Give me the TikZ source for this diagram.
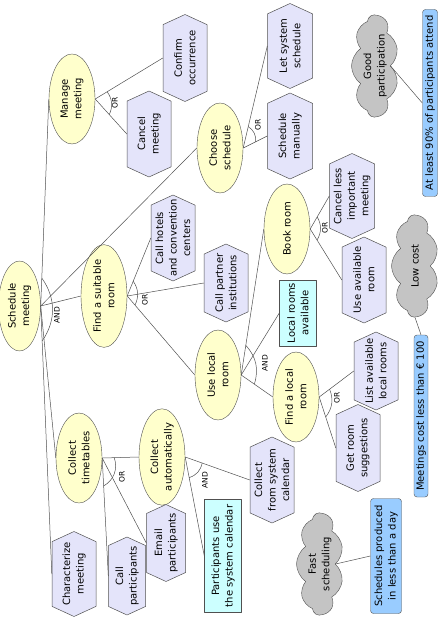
\documentclass[tikz,border=0pt]{standalone}
\usepackage{fontspec}
\setmainfont{DejaVu Sans}
\usetikzlibrary{shapes.geometric,shapes.symbols,calc}

\definecolor{goalfill}{HTML}{FFFFCC}
\definecolor{taskfill}{HTML}{E4E4FA}
\definecolor{resfill}{HTML}{CCFFFF}
\definecolor{measfill}{HTML}{99CCFF}
\definecolor{softfill}{HTML}{C4C4C4}
\definecolor{edgecol}{HTML}{505050}

\newcommand{\nodefont}{\fontsize{10}{13.5}\selectfont}

% hexagon task: name, x, y, width, length, text
\newcommand{\taskhex}[6]{%
  \filldraw[taskshape] (#2,#3+#5/2) -- (#2+#4/2,#3+#5/2-#4*0.23)
    -- (#2+#4/2,#3-#5/2+#4*0.23) -- (#2,#3-#5/2)
    -- (#2-#4/2,#3-#5/2+#4*0.23) -- (#2-#4/2,#3+#5/2-#4*0.23) -- cycle;
  \node[tasktext, minimum width=#5pt, minimum height=#4pt] (#1) at (#2,#3) {#6};
}

\tikzset{
  goal/.style={ellipse, draw=edgecol, fill=goalfill, minimum width=90pt,
    minimum height=46pt, inner sep=0pt, align=center, rotate=90, font=\nodefont},
  taskshape/.style={draw=edgecol, fill=taskfill, line width=0.5pt},
  tasktext/.style={rectangle, inner sep=0pt, align=center, rotate=90, font=\nodefont},
  resource/.style={rectangle, draw=edgecol, fill=resfill, inner sep=0pt,
    align=center, rotate=90, font=\nodefont},
  measure/.style={rectangle, rounded corners=3pt, draw=edgecol, fill=measfill,
    inner sep=0pt, align=center, rotate=90, font=\nodefont},
  softgoal/.style={cloud, cloud puffs=9, cloud puff arc=110, cloud ignores aspect,
    draw=edgecol, fill=softfill, minimum width=102pt, minimum height=47pt,
    inner sep=0pt, align=center, rotate=90, font=\nodefont},
  link/.style={draw=edgecol, line width=0.5pt},
  reflabel/.style={rotate=90, inner sep=0pt, font=\fontsize{7.5}{8}\selectfont},
}

\begin{document}
\begin{tikzpicture}[x=1pt, y=1pt, line join=round]
  \useasboundingbox (0,0) rectangle (445,-617);

  % goals
  \node[goal, minimum height=42pt] (sm) at (19.5,-306) {Schedule\\meeting};
  \node[goal] (mm) at (72,-99) {Manage\\meeting};
  \node[goal] (cs) at (220,-148) {Choose\\schedule};
  \node[goal] (fsr) at (104,-296) {Find a suitable\\room};
  \node[goal] (ulr) at (218,-375) {Use local\\room};
  \node[goal] (br) at (287,-229) {Book room};
  \node[goal] (flr) at (296,-397) {Find a local\\room};
  \node[goal] (ct) at (79,-458) {Collect\\timetables};
  \node[goal] (ca) at (162,-457) {Collect\\automatically};

  % tasks
  \taskhex{co}{185}{-58}{44}{87}{Confirm\\occurrence}
  \taskhex{cm}{149}{-134}{44}{86}{Cancel\\meeting}
  \taskhex{lss}{290}{-46}{45}{85}{Let system\\schedule}
  \taskhex{smn}{290}{-136}{45}{86}{Schedule\\manually}
  \taskhex{ch}{173}{-238}{44}{86}{Call hotels\\and convention\\centers}
  \taskhex{cpi}{226}{-283}{44}{78}{Call partner\\institutions}
  \taskhex{cli}{352}{-196}{45}{85}{Cancel less\\important\\meeting}
  \taskhex{uar}{364}{-280}{44}{86}{Use available\\room}
  \taskhex{lal}{376}{-371}{44}{78}{List available\\local rooms}
  \taskhex{grs}{358}{-448}{44}{87}{Get room\\suggestions}
  \taskhex{cfc}{272}{-480}{44}{86}{Collect\\from system\\calendar}
  \taskhex{chm}{74}{-574}{44}{85}{Characterize\\meeting}
  \taskhex{cp}{127}{-576}{37}{78}{Call\\participants}
  \taskhex{ep}{166}{-543}{39}{77}{Email\\participants}

  % resources
  \node[resource, minimum width=66pt, minimum height=37pt] (lra) at (298,-313) {Local rooms\\available};
  \node[resource, minimum width=113pt, minimum height=37pt] (puc) at (223,-556) {Participants use\\the system calendar};

  % softgoals and measures
  \node[softgoal] (gp) at (375,-66) {Good\\participation};
  \node[softgoal] (lc) at (415,-266) {Low cost};
  \node[softgoal] (fs) at (320,-564) {Fast\\scheduling};
  \node[measure, minimum width=187pt, minimum height=15pt] (atl) at (430,-103) {At least 90\% of participants attend};
  \node[measure, minimum width=162pt, minimum height=14pt] (mcl) at (421,-416) {Meetings cost less than € 100};
  \node[measure, minimum width=115pt, minimum height=31pt] (spd) at (386,-556) {Schedules produced\\in less than a day};

  % decompositions
  \draw[link] (sm.south) -- (mm.north);
  \draw[link] (sm.south) -- (cs.north);
  \draw[link] (sm.south) -- (fsr.north);
  \draw[link] (sm.south) -- (ct.north);
  \draw[link] (sm.south) -- (chm.north);
  \draw[link] ($(sm.south)!28pt!(mm.north)$) to[bend left=35] ($(sm.south)!35pt!(chm.north)$);
  \node[reflabel] (smand) at (57,-315) {AND};

  \draw[link] (mm.south) -- (co.north);
  \draw[link] (mm.south) -- (cm.north);
  \draw[link] ($(mm.south)!14pt!(co.north)$) to[bend left=30] ($(mm.south)!21pt!(cm.north)$);
  \node[reflabel] (mmor) at (115,-103) {OR};

  \draw[link] (cs.south) -- (lss.north);
  \draw[link] (cs.south) -- (smn.north);
  \draw[link] ($(cs.south)!22pt!(lss.north)$) to[bend left=30] ($(cs.south)!14pt!(smn.north)$);
  \node[reflabel] (csor) at (258,-125) {OR};

  \draw[link] (fsr.south) -- (ch.north);
  \draw[link] (fsr.south) -- (cpi.north);
  \draw[link] (fsr.south) -- (ulr.north);
  \draw[link] ($(fsr.south)!16pt!(ch.north)$) to[bend left=30] ($(fsr.south)!12pt!(ulr.north)$);
  \node[reflabel] (fsror) at (145,-300) {OR};

  \draw[link] (ulr.south) -- (br.north);
  \draw[link] (ulr.south) -- (lra.north);
  \draw[link] (ulr.south) -- (flr.north);
  \draw[link] ($(ulr.south)!30pt!(br.north)$) to[bend left=30] ($(ulr.south)!16pt!(flr.north)$);
  \node[reflabel] (ulrand) at (265,-363) {AND};

  \draw[link] (br.south) -- (cli.north);
  \draw[link] (br.south) -- (uar.north);
  \draw[link] ($(br.south)!14pt!(cli.north)$) to[bend left=30] ($(br.south)!13pt!(uar.north)$);
  \node[reflabel] (bror) at (325,-228) {OR};

  \draw[link] (flr.south) -- (lal.north);
  \draw[link] (flr.south) -- (grs.north);
  \draw[link] ($(flr.south)!13pt!(lal.north)$) to[bend left=30] ($(flr.south)!21pt!(grs.north)$);
  \node[reflabel] (flror) at (337,-398) {OR};

  \draw[link] (ct.south) -- (ca.north);
  \draw[link] (ct.south) -- (ep.north);
  \draw[link] (ct.south) -- (cp.north);
  \draw[link] ($(ct.south)!12pt!(ca.north)$) to[bend left=40] ($(ct.south)!28pt!(cp.north)$);
  \node[reflabel] (ctor) at (122,-477) {OR};

  \draw[link] (ca.south) -- (cfc.north);
  \draw[link] (ca.south) -- (puc.north);
  \draw[link] ($(ca.south)!18pt!(cfc.north)$) to[bend left=30] ($(ca.south)!21pt!(puc.north)$);
  \node[reflabel] (caand) at (205,-480) {AND};

  % contributions to measures
  \draw[link] (gp.south) -- (atl.north);
  \draw[link] (lc.west) -- (mcl.east);
  \draw[link] (fs.south) -- (spd.north);
\end{tikzpicture}
\end{document}
